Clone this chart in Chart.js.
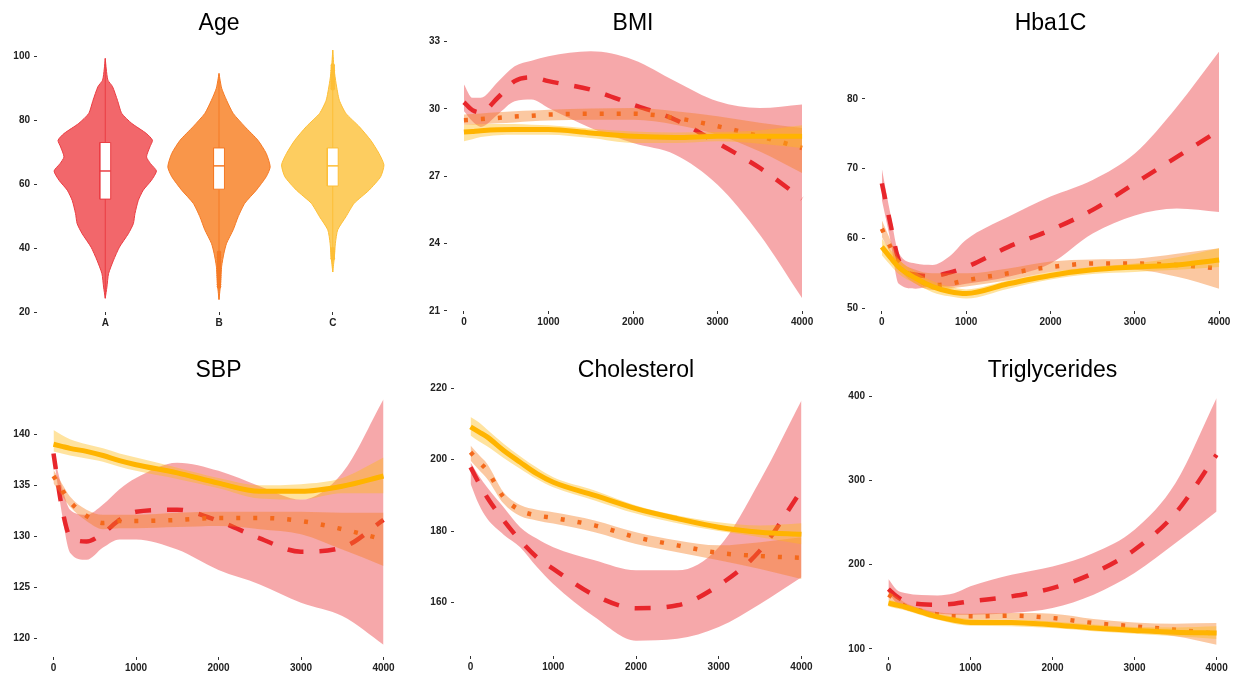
<!DOCTYPE html>
<html>
<head>
<meta charset="utf-8">
<script src="https://cdn.jsdelivr.net/npm/chart.js@4.4.0/dist/chart.umd.min.js"></script>
<style>
html, body { margin: 0; padding: 0; background: #fff; }
#wrap { position: relative; width: 1236px; height: 678px; overflow: hidden; }
canvas { position: absolute; }
</style>
</head>
<body>
<div id="wrap">
  <canvas id="cAge"></canvas>
  <canvas id="cBmi"></canvas>
  <canvas id="cHba"></canvas>
  <canvas id="cSbp"></canvas>
  <canvas id="cChol"></canvas>
  <canvas id="cTrig"></canvas>
</div>
<script>
// ---- Age violins ----
const groups = ['A', 'B', 'C'];
const ageA = [24.3, 27.8, 32, 36.2, 40.3, 44.5, 47.6, 50.8, 54.9, 58.1, 61.2, 64.1, 66.4, 68.5, 71.6, 73.7, 75.8, 79, 82.1, 86.2, 90.5, 92.5, 96, 99.3];
const densA = [0, 5, 10, 25, 43, 70, 85, 90, 100, 115, 140, 155, 137, 125, 135, 143, 125, 80, 50, 37, 22, 8, 3, 0];
const ageB = [23.9, 29.1, 34.3, 38.4, 41.5, 45.7, 49.8, 54, 58.1, 62.3, 65.4, 69.6, 73.7, 78, 82.1, 86.2, 90, 94.6];
const densB = [0, 5, 8, 15, 23, 43, 58, 78, 113, 143, 155, 143, 118, 78, 43, 23, 8, 0];
const ageC = [32.5, 37.3, 41.5, 45.7, 49.8, 54, 58.1, 62.3, 66, 69.6, 73.7, 78, 82.1, 86.2, 91.5, 96, 101.9];
const densC = [0, 5, 8, 15, 40, 65, 110, 145, 155, 140, 115, 80, 40, 20, 10, 4, 0];
const boxQ1 = [55.3, 58.4, 59.4];
const boxMed = [64.1, 65.7, 65.7];
const boxQ3 = [73, 71.3, 71.3];
const outliersB = [28, 28.7, 29.4, 30.1, 30.8, 31.5, 32.2, 32.9, 33.6, 34.3, 35, 35.7, 36.4, 37.1, 37.8, 38.5];
const outliersC = [36.8, 37.5, 38.2, 38.9, 39.6, 90, 90.7, 91.4, 92.1, 92.8, 93.5, 94.2, 94.9, 95.6, 96.3, 97];

// ---- smooth curves: shared x grid ----
const xGrid = [0, 100, 200, 400, 600, 800, 1000, 1500, 2000, 2500, 3000, 3500, 4000];
const xTicks = [0, 1000, 2000, 3000, 4000];

const bmiA   = [30.3, 29.95, 29.85, 30.5, 31.24, 31.41, 31.24, 30.86, 30.19, 29.52, 28.48, 27.37, 26.0];
const bmiAHi = [31.1, 30.5, 30.5, 31.2, 31.9, 32.15, 32.35, 32.57, 32.2, 31.24, 30.34, 30.04, 30.2];
const bmiALo = [29.9, 29.45, 29.2, 29.75, 30.34, 30.42, 30.04, 29.15, 28.48, 27.96, 26.62, 24.39, 21.56];
const bmiB   = [29.5, 29.52, 29.55, 29.6, 29.66, 29.7, 29.75, 29.79, 29.79, 29.6, 29.23, 28.78, 28.26];
const bmiBHi = [29.75, 29.78, 29.8, 29.85, 29.9, 29.93, 29.97, 30.02, 30.04, 29.9, 29.67, 29.38, 29.15];
const bmiBLo = [29.3, 29.3, 29.32, 29.36, 29.4, 29.45, 29.48, 29.52, 29.52, 29.3, 28.85, 28.1, 27.14];
const bmiC   = [28.97, 29.0, 29.03, 29.07, 29.08, 29.08, 29.08, 28.93, 28.78, 28.73, 28.78, 28.78, 28.78];
const bmiCHi = [29.3, 29.32, 29.33, 29.33, 29.33, 29.3, 29.27, 29.12, 29.0, 28.95, 28.97, 29.05, 29.27];
const bmiCLo = [28.56, 28.65, 28.75, 28.83, 28.85, 28.85, 28.85, 28.7, 28.48, 28.48, 28.56, 28.45, 28.26];

const hbaA   = [67.9, 62.2, 56.9, 54.8, 54.6, 55.1, 55.9, 58.8, 61.2, 64.1, 67.9, 71.7, 75.5];
const hbaAHi = [70, 63.6, 57.9, 56.4, 56.2, 57.4, 59.8, 63.1, 66, 68.4, 72.2, 78.9, 86.8];
const hbaALo = [65.5, 59.8, 53.5, 52.8, 53.1, 53.1, 53.5, 54.5, 56.4, 60.7, 63.3, 64.3, 63.8];
const hbaB   = [61.4, 58.8, 56.4, 54.3, 53.3, 53.5, 54.0, 55.0, 55.9, 56.4, 56.4, 56.2, 55.7];
const hbaBHi = [62.6, 59.8, 57.1, 55.5, 55.0, 55.0, 55.0, 55.7, 56.7, 57.0, 57.1, 57.8, 58.6];
const hbaBLo = [60.2, 57.9, 55.7, 53.5, 52.6, 52.8, 53.1, 54.0, 55.2, 55.6, 55.5, 54.5, 52.8];
const hbaC   = [58.8, 57.3, 55.9, 54.3, 53.1, 52.4, 52.1, 53.5, 54.7, 55.5, 55.9, 56.2, 56.9];
const hbaCHi = [60.0, 58.4, 57.0, 55.2, 53.9, 53.1, 52.7, 54.0, 55.2, 55.9, 56.4, 57.3, 58.6];
const hbaCLo = [57.6, 56.2, 54.9, 53.5, 52.3, 51.7, 51.4, 52.8, 54.1, 54.9, 55.2, 55.5, 55.9];

const sbpA   = [138.1, 132.9, 130, 129.5, 130.3, 131.6, 132.4, 132.6, 131.5, 129.8, 128.5, 128.9, 131.6];
const sbpAHi = [138.1, 134.9, 132.6, 132.1, 133.1, 134.6, 135.7, 137.2, 136.4, 134.9, 133.6, 136.2, 143.4];
const sbpALo = [138, 132.3, 128.4, 127.7, 128.9, 129.7, 129.7, 128.7, 126.7, 125.3, 123.5, 122.2, 119.4];
const sbpB   = [135.9, 134.6, 133.4, 132, 131.3, 131.5, 131.5, 131.6, 131.8, 131.8, 131.5, 130.7, 129.7];
const sbpBHi = [136.5, 135.2, 133.9, 132.6, 132.1, 132.1, 132.1, 132.3, 132.4, 132.4, 132.4, 132.3, 132.3];
const sbpBLo = [135.2, 134.0, 132.9, 131.5, 130.7, 130.8, 130.8, 130.9, 131.0, 130.7, 130.2, 128.7, 127.1];
const sbpC   = [139, 138.8, 138.6, 138.3, 137.9, 137.4, 137, 136.2, 135.2, 134.4, 134.4, 134.9, 135.9];
const sbpCHi = [140.4, 139.9, 139.5, 139.0, 138.6, 138.1, 137.7, 136.7, 135.7, 135.0, 135.1, 135.7, 137.7];
const sbpCLo = [138.3, 138.1, 137.9, 137.6, 137.3, 136.8, 136.4, 135.6, 134.7, 133.7, 133.6, 134.2, 134.2];

const cholA   = [197.9, 193.5, 189.5, 183, 177.4, 172.7, 169.4, 162, 158.4, 159.2, 164.8, 174.6, 191.4];
const cholAHi = [199.3, 195.5, 192.3, 186.7, 181.1, 177.9, 175.5, 171.8, 169, 169, 175.5, 194.2, 216.6];
const cholALo = [193.3, 187.5, 183.5, 179, 175.5, 170, 165.2, 155.9, 149.3, 149.8, 153.1, 159.6, 167.1];
const cholB   = [202.1, 199.5, 197, 189.5, 185.8, 184.4, 183.7, 181.6, 178.3, 176, 173.9, 173, 172.5];
const cholBHi = [204, 201.4, 198.9, 190.9, 187.3, 186, 185.3, 183, 179.7, 177.4, 176, 176.9, 178.3];
const cholBLo = [199.8, 197.2, 194.7, 187.7, 184.2, 183, 182.1, 179.7, 176.4, 174.1, 171.8, 169.4, 166.6];
const cholC   = [209.2, 207.8, 206.4, 202.6, 199.3, 196.1, 193.7, 190, 186.3, 183.5, 181.1, 179.7, 179.1];
const cholCHi = [212, 210.5, 208.5, 204.5, 201, 197.8, 195.1, 191.4, 187.2, 184.4, 182.5, 181.6, 182.2];
const cholCLo = [206.8, 205.2, 203.8, 200.5, 197.5, 194.6, 192.3, 188.6, 184.9, 182.2, 180, 178.3, 176.3];

const trigA   = [171.1, 162.4, 157, 153, 152.5, 153.7, 156.5, 162.4, 172.3, 190.1, 217.8, 261.3, 330.6];
const trigAHi = [183, 170.3, 166.5, 164, 163.5, 166, 174.3, 188.1, 198, 213.9, 241.6, 297, 397.9];
const trigALo = [166.4, 154.5, 149, 144.5, 142, 140.6, 140.6, 142.6, 148.6, 164.4, 190.1, 225.7, 263.3];
const trigB   = [164.4, 158, 151, 145, 141, 138.7, 138.7, 139.5, 136.7, 130.7, 126.8, 122.8, 118.1];
const trigBHi = [168.3, 162, 155, 148, 143.5, 142, 141.8, 142.6, 141.8, 135.5, 131.5, 130, 130.7];
const trigBLo = [158.4, 153, 147, 141.5, 137.5, 135.5, 134.7, 134.7, 131.5, 126, 120.9, 114.9, 105];
const trigC   = [154.5, 152, 149.8, 143.8, 138, 134, 131.5, 131.5, 128.8, 124.8, 122, 119.7, 118.9];
const trigCHi = [158.4, 156, 153, 147.5, 142, 138, 135.5, 134.5, 132.7, 129, 126, 125.5, 126.8];
const trigCLo = [150.5, 148, 146, 140, 134.5, 130, 127.6, 127, 124.8, 121, 118.1, 115, 111.8];

// ---- styles ----
const violinFill = ['#F2676B', '#F9964A', '#FDCD60'];
const violinLine = ['#EA3D43', '#F57A25', '#FDBE36'];
const lineCol = ['#E8262B', '#F4691B', '#FFB400'];
const bandCol = ['rgba(232,38,43,0.4)', 'rgba(245,125,30,0.42)', 'rgba(255,185,15,0.4)'];
const tickFont = { family: '"Liberation Sans", Arial, sans-serif', size: 10, weight: 'bold' };
const tickColor = '#222';

const titlePlugin = {
  id: 'panelTitle',
  afterDraw(chart, args, opts) {
    const { ctx, chartArea } = chart;
    ctx.save();
    ctx.font = '23px "Liberation Sans", Arial, sans-serif';
    ctx.fillStyle = '#000';
    ctx.textAlign = 'center';
    ctx.textBaseline = 'alphabetic';
    ctx.fillText(opts.text, (chartArea.left + chartArea.right) / 2, opts.y);
    ctx.restore();
  }
};

function makeChart(id, geo, datasets, yr, yTicks, xr, xTickVals, xLabel, title, titleY) {
  const cv = document.getElementById(id);
  cv.width = geo.w; cv.height = geo.h;
  cv.style.left = geo.x + 'px'; cv.style.top = geo.y + 'px';
  const aL = geo.aL - geo.x, aT = geo.aT - geo.y, aR = geo.aR - geo.x, aB = geo.aB - geo.y;
  const grid = { display: true, drawOnChartArea: false, drawTicks: true, tickLength: 3, tickWidth: 1, tickColor: '#333' };
  new Chart(cv, {
    type: 'line',
    data: { datasets: datasets },
    plugins: [titlePlugin],
    options: {
      responsive: false,
      animation: false,
      events: [],
      elements: { point: { radius: 0 } },
      layout: { padding: { left: 0, top: aT, right: geo.w - aR, bottom: 0 } },
      plugins: {
        legend: { display: false },
        tooltip: { enabled: false },
        panelTitle: { text: title, y: titleY }
      },
      scales: {
        x: {
          type: 'linear', min: xr[0], max: xr[1],
          afterBuildTicks: s => { s.ticks = xTickVals.map(v => ({ value: v })); },
          afterFit: s => { s.height = geo.h - aB; },
          grid: grid, border: { display: false },
          ticks: { font: tickFont, color: tickColor, padding: 2, maxRotation: 0, autoSkip: false, callback: xLabel }
        },
        y: {
          type: 'linear', min: yr[0], max: yr[1],
          afterBuildTicks: s => { s.ticks = yTicks.map(v => ({ value: v })); },
          afterFit: s => { s.width = aL; },
          grid: grid, border: { display: false },
          ticks: { font: tickFont, color: tickColor, padding: 4, autoSkip: false, callback: v => String(v) }
        }
      }
    }
  });
}

// ---- Age panel datasets ----
function violinSets() {
  const ages = [ageA, ageB, ageC];
  const dens = [densA, densB, densC];
  const sets = [];
  const boxHalf = 0.048;
  for (let g = 0; g < 3; g++) {
    const cx = g + 1;
    const mx = Math.max.apply(null, dens[g]);
    const right = ages[g].map((a, i) => ({ x: cx + 0.45 * dens[g][i] / mx, y: a }));
    const left = ages[g].map((a, i) => ({ x: cx - 0.45 * dens[g][i] / mx, y: a })).reverse();
    sets.push({ data: right.concat(left), borderColor: violinLine[g], borderWidth: 1, backgroundColor: violinFill[g], fill: 'shape', tension: 0.2, order: 10 });
    const a = ages[g];
    sets.push({ data: [{ x: cx, y: a[0] }, { x: cx, y: a[a.length - 1] }], borderColor: violinLine[g], borderWidth: 1, fill: false, order: 9 });
    sets.push({ data: [{ x: cx - boxHalf, y: boxQ1[g] }, { x: cx + boxHalf, y: boxQ1[g] }, { x: cx + boxHalf, y: boxQ3[g] }, { x: cx - boxHalf, y: boxQ3[g] }, { x: cx - boxHalf, y: boxQ1[g] }],
      borderColor: violinLine[g], borderWidth: 1, backgroundColor: '#fff', fill: 'shape', order: 8 });
    sets.push({ data: [{ x: cx - boxHalf, y: boxMed[g] }, { x: cx + boxHalf, y: boxMed[g] }], borderColor: violinLine[g], borderWidth: 1.5, fill: false, order: 7 });
  }
  const outs = [[], outliersB, outliersC];
  for (let g = 1; g < 3; g++) {
    sets.push({ data: outs[g].map(v => ({ x: g + 1, y: v })), showLine: false, pointRadius: 2.3, pointBorderWidth: 0,
      pointBackgroundColor: violinLine[g], order: 6 });
  }
  return sets;
}

// ---- smooth-with-band datasets: A drawn first, C (yellow) ends on top ----
function bandSets(series) {
  const sets = [];
  const dashes = [[16, 16], [4, 13], []];
  const widths = [4.5, 4.5, 5];
  for (let g = 0; g < 3; g++) {
    const s = series[g];
    const pts = arr => xGrid.map((x, i) => ({ x: x, y: arr[i] }));
    const ord = (3 - g) * 2;
    sets.push({ data: pts(s[1]), borderWidth: 0, fill: '+1', backgroundColor: bandCol[g], cubicInterpolationMode: 'monotone', order: ord + 1 });
    sets.push({ data: pts(s[2]), borderWidth: 0, fill: false, cubicInterpolationMode: 'monotone', order: ord + 1 });
    sets.push({ data: pts(s[0]), borderColor: lineCol[g], borderWidth: widths[g], borderDash: dashes[g], borderCapStyle: 'butt',
      fill: false, cubicInterpolationMode: 'monotone', order: ord });
  }
  return sets;
}

const numLabel = v => String(v);
const TOP_T = 29.5, BOT_T = 36.5;

makeChart('cAge', { x: 0, y: 0, w: 410, h: 340, aL: 37, aT: 37, aR: 401, aB: 312 },
  violinSets(), [20, 106], [20, 40, 60, 80, 100], [0.4, 3.6], [1, 2, 3], v => groups[Math.round(v) - 1], 'Age', TOP_T);

makeChart('cBmi', { x: 410, y: 0, w: 420, h: 340, aL: 447, aT: 39, aR: 819, aB: 311 },
  bandSets([[bmiA, bmiAHi, bmiALo], [bmiB, bmiBHi, bmiBLo], [bmiC, bmiCHi, bmiCLo]]),
  [20.99, 33.12], [21, 24, 27, 30, 33], [-200, 4200], xTicks, numLabel, 'BMI', TOP_T);

makeChart('cHba', { x: 830, y: 0, w: 406, h: 340, aL: 865, aT: 39, aR: 1236, aB: 311 },
  bandSets([[hbaA, hbaAHi, hbaALo], [hbaB, hbaBHi, hbaBLo], [hbaC, hbaCHi, hbaCLo]]),
  [49.6, 88.6], [50, 60, 70, 80], [-200, 4200], xTicks, numLabel, 'Hba1C', TOP_T);

makeChart('cSbp', { x: 0, y: 340, w: 410, h: 338, aL: 37, aT: 387, aR: 400, aB: 657 },
  bandSets([[sbpA, sbpAHi, sbpALo], [sbpB, sbpBHi, sbpBLo], [sbpC, sbpCHi, sbpCLo]]),
  [118.2, 144.6], [120, 125, 130, 135, 140], [-200, 4200], xTicks, numLabel, 'SBP', BOT_T);

makeChart('cChol', { x: 410, y: 340, w: 420, h: 338, aL: 454, aT: 388, aR: 818, aB: 656 },
  bandSets([[cholA, cholAHi, cholALo], [cholB, cholBHi, cholBLo], [cholC, cholCHi, cholCLo]]),
  [145, 220.1], [160, 180, 200, 220], [-200, 4200], xTicks, numLabel, 'Cholesterol', BOT_T);

makeChart('cTrig', { x: 830, y: 340, w: 406, h: 338, aL: 872, aT: 387, aR: 1233, aB: 657 },
  bandSets([[trigA, trigAHi, trigALo], [trigB, trigBHi, trigBLo], [trigC, trigCHi, trigCLo]]),
  [90.4, 411.1], [100, 200, 300, 400], [-200, 4200], xTicks, numLabel, 'Triglycerides', BOT_T);
</script>
</body>
</html>
